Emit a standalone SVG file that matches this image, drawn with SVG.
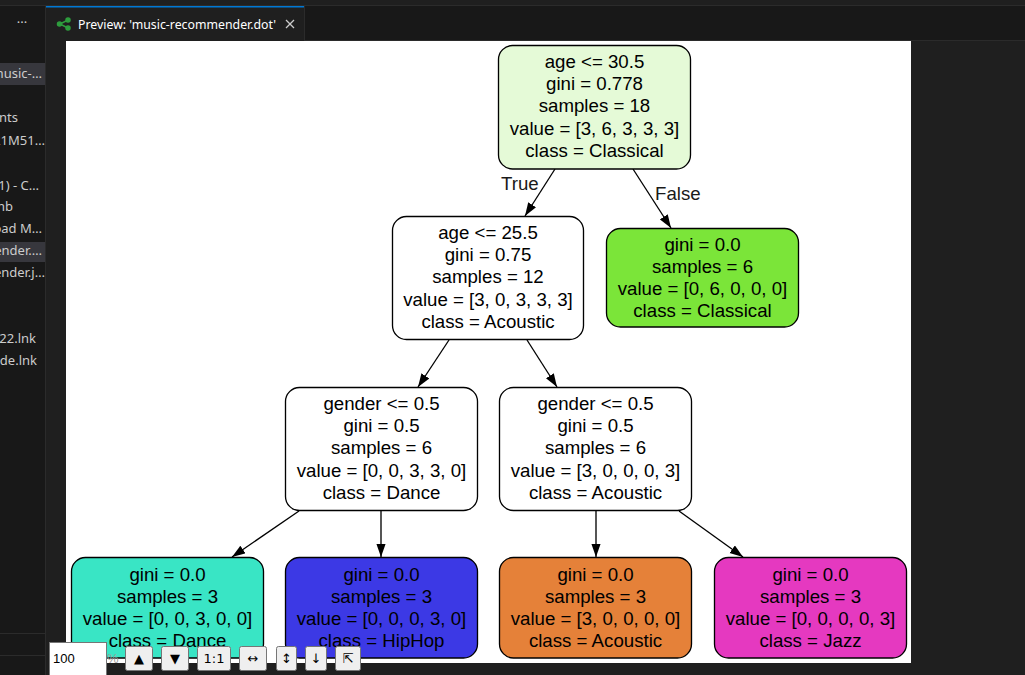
<svg xmlns="http://www.w3.org/2000/svg" width="1025" height="675" viewBox="0 0 1025 675">
  <defs>
    <style>
      .ui { font-family: "Noto Sans", "Liberation Sans", sans-serif; font-size: 13px; fill: #cccccc; }
      .side { text-anchor: end; }
      .node rect { stroke: #000000; stroke-width: 1.33; }
      .node text { font-family: "Liberation Sans", Arial, sans-serif; font-size: 18.67px; fill: #000000; text-anchor: middle; }
      .edge { fill: none; stroke: #000000; stroke-width: 1.33; marker-end: url(#arrow); }
      .elabel { font-family: "Liberation Sans", Arial, sans-serif; font-size: 18.67px; fill: #1a1a1a; }
      .btn rect { fill: #efefef; stroke: #767676; stroke-width: 1; }
      .btn text { font-family: "DejaVu Sans", "Liberation Sans", sans-serif; font-size: 13px; fill: #000000; text-anchor: middle; }
    </style>
    <marker id="arrow" markerUnits="userSpaceOnUse" markerWidth="14" markerHeight="10" refX="13.3" refY="4.67" orient="auto">
      <path d="M0,0 L13.3,4.67 L0,9.33 Z" fill="#000000"/>
    </marker>
    <clipPath id="canvasClip">
      <rect x="66" y="41" width="845" height="622"/>
    </clipPath>
    <clipPath id="sideClip">
      <rect x="0" y="41" width="45" height="634"/>
    </clipPath>
  </defs>

  <!-- editor chrome -->
  <rect x="0" y="0" width="1025" height="675" fill="#1f1f1f"/>
  <rect x="0" y="6" width="1025" height="34" fill="#181818"/>
  <rect x="0" y="5" width="1025" height="1" fill="#2b2b2b"/>
  <rect x="0" y="40" width="1025" height="1" fill="#2b2b2b"/>

  <!-- explorer sidebar (narrow, so entry names are cut at its edges) -->
  <g id="sidebar">
    <rect x="0" y="6" width="45" height="669" fill="#181818"/>
    <rect x="45" y="6" width="1" height="669" fill="#2b2b2b"/>
    <text class="ui" x="22" y="27" text-anchor="middle" font-size="14">···</text>
    <g clip-path="url(#sideClip)">
      <rect x="0" y="63" width="45" height="22" fill="#37373d"/>
      <rect x="0" y="242" width="45" height="20" fill="#37373d"/>
      <text class="ui side" x="42" y="78">music-…</text>
      <text class="ui side" x="18" y="122">ints</text>
      <text class="ui side" x="45" y="145">21M51…</text>
      <text class="ui side" x="39" y="190">1) - C…</text>
      <text class="ui side" x="13" y="211">nb</text>
      <text class="ui side" x="42" y="233">oad M…</text>
      <text class="ui side" x="42" y="255">ender.…</text>
      <text class="ui side" x="45" y="277">ender.j…</text>
      <text class="ui side" x="36" y="343">022.lnk</text>
      <text class="ui side" x="37" y="365">ode.lnk</text>
    </g>
    <rect x="0" y="633" width="45" height="1" fill="#2b2b2b"/>
    <rect x="0" y="655" width="45" height="1" fill="#2b2b2b"/>
  </g>

  <!-- active tab -->
  <g id="tab">
    <rect x="46" y="6" width="258" height="35" fill="#1f1f1f"/>
    <rect x="46" y="6" width="258" height="1.5" fill="#0078d4"/>
    <rect x="304" y="6" width="1" height="34" fill="#2b2b2b"/>
    <g stroke="#2e9e3e" stroke-width="1.5" fill="#2e9e3e">
      <line x1="60" y1="24" x2="68" y2="20"/>
      <line x1="60" y1="24" x2="68" y2="28"/>
      <circle cx="59.5" cy="24" r="2"/>
      <circle cx="68" cy="20" r="2"/>
      <circle cx="68" cy="28" r="2"/>
    </g>
    <text class="ui" x="78" y="29" style="fill:#ffffff" textLength="198" lengthAdjust="spacingAndGlyphs">Preview: 'music-recommender.dot'</text>
    <g stroke="#cccccc" stroke-width="1.3">
      <line x1="286" y1="20" x2="294" y2="28"/>
      <line x1="294" y1="20" x2="286" y2="28"/>
    </g>
  </g>

  <!-- preview canvas -->
  <rect x="66" y="41" width="845" height="622" fill="#ffffff"/>

  <g clip-path="url(#canvasClip)">
    <!-- connectors -->
    <g id="connectors">
      <path class="edge" d="M555,169 L525,216"/>
      <path class="edge" d="M633,169 L671,228"/>
      <path class="edge" d="M449,340 L418,387"/>
      <path class="edge" d="M527,340 L557,387"/>
      <path class="edge" d="M299,511 L232,557"/>
      <path class="edge" d="M381,511 L381,557"/>
      <path class="edge" d="M596,511 L596,557"/>
      <path class="edge" d="M679,511 L743,557"/>
      <text class="elabel" x="501" y="190">True</text>
      <text class="elabel" x="655" y="200">False</text>
    </g>

    <g id="node0" class="node">
      <rect x="498.5" y="45.5" width="192" height="123.5" rx="14" fill="#e5fad7"/>
      <text x="594.5" y="68">age &lt;= 30.5</text>
      <text x="594.5" y="90">gini = 0.778</text>
      <text x="594.5" y="112">samples = 18</text>
      <text x="594.5" y="134.5">value = [3, 6, 3, 3, 3]</text>
      <text x="594.5" y="156.5">class = Classical</text>
    </g>

    <g id="node1" class="node">
      <rect x="392.5" y="216.5" width="191" height="123" rx="14" fill="#ffffff"/>
      <text x="488" y="239">age &lt;= 25.5</text>
      <text x="488" y="261">gini = 0.75</text>
      <text x="488" y="283">samples = 12</text>
      <text x="488" y="305.5">value = [3, 0, 3, 3, 3]</text>
      <text x="488" y="327.5">class = Acoustic</text>
    </g>

    <g id="node2" class="node">
      <rect x="606.5" y="228.5" width="192" height="98.5" rx="14" fill="#7be539"/>
      <text x="702.5" y="250.5">gini = 0.0</text>
      <text x="702.5" y="272.5">samples = 6</text>
      <text x="702.5" y="294.5">value = [0, 6, 0, 0, 0]</text>
      <text x="702.5" y="316.5">class = Classical</text>
    </g>

    <g id="node3" class="node">
      <rect x="285.5" y="387.5" width="192" height="123" rx="14" fill="#ffffff"/>
      <text x="381.5" y="410">gender &lt;= 0.5</text>
      <text x="381.5" y="432">gini = 0.5</text>
      <text x="381.5" y="454">samples = 6</text>
      <text x="381.5" y="476.5">value = [0, 0, 3, 3, 0]</text>
      <text x="381.5" y="498.5">class = Dance</text>
    </g>

    <g id="node4" class="node">
      <rect x="499.5" y="387.5" width="192" height="123" rx="14" fill="#ffffff"/>
      <text x="595.5" y="410">gender &lt;= 0.5</text>
      <text x="595.5" y="432">gini = 0.5</text>
      <text x="595.5" y="454">samples = 6</text>
      <text x="595.5" y="476.5">value = [3, 0, 0, 0, 3]</text>
      <text x="595.5" y="498.5">class = Acoustic</text>
    </g>

    <g id="node5" class="node">
      <rect x="71.5" y="557.5" width="192" height="100.5" rx="14" fill="#39e5c5"/>
      <text x="167.5" y="580.5">gini = 0.0</text>
      <text x="167.5" y="602.5">samples = 3</text>
      <text x="167.5" y="624.5">value = [0, 0, 3, 0, 0]</text>
      <text x="167.5" y="646.5">class = Dance</text>
    </g>

    <g id="node6" class="node">
      <rect x="285.5" y="557.5" width="192" height="100.5" rx="14" fill="#3c39e5"/>
      <text x="381.5" y="580.5">gini = 0.0</text>
      <text x="381.5" y="602.5">samples = 3</text>
      <text x="381.5" y="624.5">value = [0, 0, 0, 3, 0]</text>
      <text x="381.5" y="646.5">class = HipHop</text>
    </g>

    <g id="node7" class="node">
      <rect x="499.5" y="557.5" width="192" height="100.5" rx="14" fill="#e58139"/>
      <text x="595.5" y="580.5">gini = 0.0</text>
      <text x="595.5" y="602.5">samples = 3</text>
      <text x="595.5" y="624.5">value = [3, 0, 0, 0, 0]</text>
      <text x="595.5" y="646.5">class = Acoustic</text>
    </g>

    <g id="node8" class="node">
      <rect x="714.5" y="557.5" width="192" height="100.5" rx="14" fill="#e539c0"/>
      <text x="810.5" y="580.5">gini = 0.0</text>
      <text x="810.5" y="602.5">samples = 3</text>
      <text x="810.5" y="624.5">value = [0, 0, 0, 0, 3]</text>
      <text x="810.5" y="646.5">class = Jazz</text>
    </g>
  </g>

  <!-- zoom toolbar -->
  <g id="toolbar">
    <rect x="49.5" y="642.5" width="57" height="34" fill="#ffffff" stroke="#767676" stroke-width="1"/>
    <text x="53" y="663" font-family="Liberation Sans, Arial, sans-serif" font-size="13" fill="#000000">100</text>
    <text x="107" y="663" font-family="Liberation Sans, Arial, sans-serif" font-size="13" fill="#9a9a9a">%</text>
    <g class="btn"><rect x="125.5" y="646.5" width="27" height="24" rx="2"/><text x="139" y="663">▲</text></g>
    <g class="btn"><rect x="161.5" y="646.5" width="27" height="24" rx="2"/><text x="175" y="663">▼</text></g>
    <g class="btn"><rect x="197.5" y="646.5" width="33" height="24" rx="2"/><text x="214" y="663">1:1</text></g>
    <g class="btn"><rect x="239.5" y="646.5" width="27" height="24" rx="2"/><text x="253" y="663">↔</text></g>
    <g class="btn"><rect x="276.5" y="646.5" width="20" height="24" rx="2"/><text x="286.5" y="663">↕</text></g>
    <g class="btn"><rect x="305.5" y="646.5" width="21" height="24" rx="2"/><text x="316" y="663">↓</text></g>
    <g class="btn"><rect x="335.5" y="646.5" width="25" height="24" rx="2"/><text x="348" y="663">⇱</text></g>
  </g>
</svg>
